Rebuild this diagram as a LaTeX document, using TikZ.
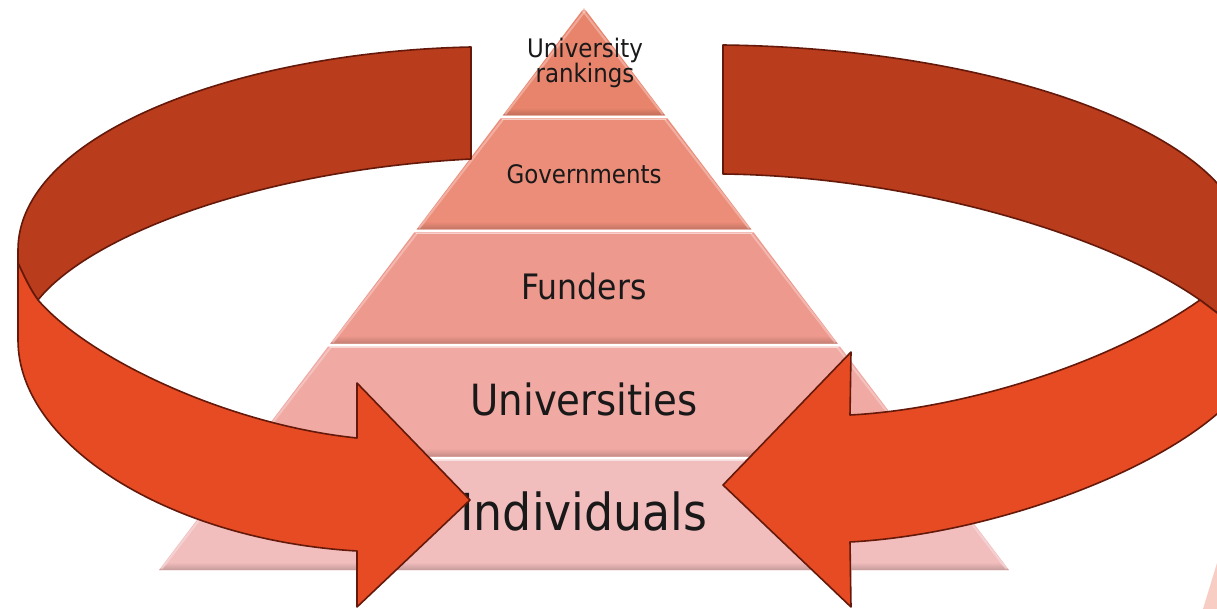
\documentclass[tikz,border=0pt]{standalone}
\usepackage{fontspec}
\setmainfont{DejaVu Sans Condensed}
\definecolor{backc}{RGB}{185,60,28}
\definecolor{frontc}{RGB}{230,75,35}
\definecolor{edgec}{RGB}{100,25,10}
\definecolor{pa}{RGB}{233,132,108}
\definecolor{pb}{RGB}{236,141,121}
\definecolor{pc}{RGB}{238,153,141}
\definecolor{pd}{RGB}{240,169,163}
\definecolor{pe}{RGB}{242,189,189}
\definecolor{peach}{RGB}{248,205,195}
\newcommand\pyrband[3]{%
 \pgfmathsetmacro\ya{#1+1.5}\pgfmathsetmacro\yb{#2-1.5}%
 \pgfmathsetmacro\la{584-(\ya-8)*0.7562}\pgfmathsetmacro\ra{584+(\ya-8)*0.7562}%
 \pgfmathsetmacro\lb{584-(\yb-8)*0.7562}\pgfmathsetmacro\rb{584+(\yb-8)*0.7562}%
 \pgfmathsetmacro\yc{\yb-8}%
 \pgfmathsetmacro\lc{584-(\yc-8)*0.7562+5}\pgfmathsetmacro\rc{584+(\yc-8)*0.7562-5}%
 \fill[#3] (\la,\ya) -- (\ra,\ya) -- (\rb,\yb) -- (\lb,\yb) -- cycle;
 \shade[top color=#3, bottom color=#3!82!black] (\lc,\yc) -- (\rc,\yc) -- (\rb,\yb) -- (\lb,\yb) -- cycle;
 \draw[white, opacity=.55, line width=1.5pt] (\la+2,\ya+0.8) -- (\ra-2,\ya+0.8);
 \draw[white, opacity=.3, line width=2pt] (\la+2.5,\ya+1) -- (\lb+2.5,\yb-1);
 \draw[white, opacity=.3, line width=2pt] (\ra-2.5,\ya+1) -- (\rb-2.5,\yb-1);
}
\tikzset{
 ribbonback/.style={fill=backc, draw=edgec, line width=1.6pt, line join=round},
 ribbonfront/.style={fill=frontc, draw=edgec, line width=1.6pt, line join=round},
 lbl/.style={text=black!90, inner sep=0pt, anchor=base}
}
\begin{document}
\begin{tikzpicture}[x=1pt,y=-1pt]
\useasboundingbox (0,0) rectangle (1217,609);
\clip (0,0) rectangle (1217,609);
\fill[white] (0,0) rectangle (1217,609);
% pyramid
\pyrband{6.5}{117}{pa}
\pyrband{117}{231}{pb}
\pyrband{231}{345}{pc}
\pyrband{345}{458}{pd}
\pyrband{458}{571.5}{pe}
\fill[peach] (1203,609) -- (1217,563) -- (1217,609) -- cycle;
% labels
\node[text=black!90, inner sep=0pt, align=center, font=\fontsize{25.5}{24}\selectfont] (rank) at (585,63) {University\\rankings};
\node[lbl, font=\fontsize{25.5}{28}\selectfont] (gov) at (584,184) {Governments};
\node[lbl, font=\fontsize{35}{40}\selectfont] (fund) at (584,300) {Funders};
\node[lbl, font=\fontsize{43}{48}\selectfont] (univ) at (584,415) {Universities};
\node[lbl, font=\fontsize{51}{58}\selectfont] (indiv) at (584,530) {Individuals};
% left ribbon
\path[ribbonback] (471,47) .. controls (235,52) and (18,135) .. (18,250) -- (18,263) .. controls (24,276) and (30,289) .. (38,300) .. controls (90,235) and (260,170) .. (471,159) -- cycle;
\path[ribbonfront] (18,263) -- (18,340) .. controls (18,445) and (170,540) .. (357,551) -- (357,607) -- (470,500) -- (357,383) -- (357,438) .. controls (230,425) and (90,360) .. (38,300) .. controls (30,289) and (24,276) .. (18,263) -- cycle;
% right ribbon
\path[ribbonback] (723,45) .. controls (960,48) and (1150,110) .. (1217,183) -- (1240,215) -- (1240,330) -- (1200,300) .. controls (1100,230) and (900,176) .. (723,174) -- cycle;
\path[ribbonfront] (1200,300) .. controls (1100,370) and (950,410) .. (850,415) -- (851,352) -- (723,485) -- (851,607) -- (850,542) .. controls (980,535) and (1140,480) .. (1217,414) -- (1245,385) -- (1245,334) -- cycle;
\end{tikzpicture}
\end{document}
